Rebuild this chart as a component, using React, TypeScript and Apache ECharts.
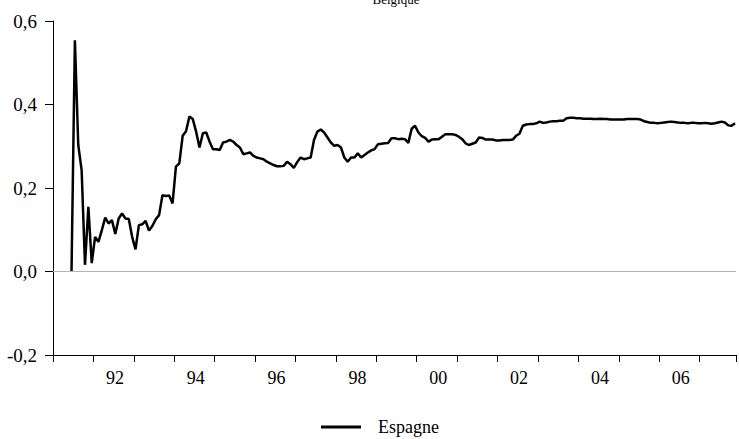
import React, { useEffect, useRef } from "react";
import * as echarts from "echarts";

const titleText = "Belgique";
const seriesName = "Espagne";
const startYear = 1991;
const startMonth = 6; // first observation: June 1991 (monthly data)
const yTicks = [-0.2, 0, 0.2, 0.4, 0.6];
const xLabelYears = [1992, 1994, 1996, 1998, 2000, 2002, 2004, 2006];

const espagne = [
  0, 0.554, 0.303, 0.243, 0.016, 0.155, 0.02, 0.083, 0.071, 0.099,
  0.129, 0.115, 0.123, 0.09, 0.127, 0.139, 0.127, 0.126, 0.083, 0.053,
  0.111, 0.113, 0.121, 0.098, 0.109, 0.125, 0.135, 0.183, 0.181, 0.182,
  0.163, 0.251, 0.259, 0.325, 0.336, 0.371, 0.365, 0.335, 0.297, 0.331,
  0.333, 0.311, 0.293, 0.293, 0.291, 0.309, 0.311, 0.315, 0.311, 0.303,
  0.297, 0.281, 0.283, 0.285, 0.277, 0.273, 0.271, 0.269, 0.263, 0.259,
  0.255, 0.252, 0.252, 0.253, 0.263, 0.257, 0.248, 0.262, 0.273, 0.269,
  0.271, 0.273, 0.315, 0.335, 0.34, 0.333, 0.321, 0.309, 0.301, 0.303,
  0.297, 0.273, 0.263, 0.273, 0.273, 0.283, 0.273, 0.279, 0.285, 0.29,
  0.293, 0.305, 0.306, 0.307, 0.308, 0.319, 0.319, 0.317, 0.318, 0.317,
  0.308, 0.342, 0.349, 0.333, 0.324, 0.32, 0.311, 0.316, 0.317, 0.317,
  0.323, 0.329, 0.329, 0.329, 0.327, 0.323, 0.317, 0.307, 0.303, 0.306,
  0.309, 0.321, 0.32, 0.316, 0.316, 0.316, 0.314, 0.314, 0.315, 0.315,
  0.315, 0.316, 0.325, 0.33, 0.349, 0.352, 0.353, 0.353, 0.355, 0.359,
  0.356, 0.357, 0.359, 0.36, 0.36, 0.361, 0.361, 0.367, 0.368, 0.368,
  0.367, 0.367, 0.366, 0.366, 0.366, 0.365, 0.365, 0.366, 0.365, 0.365,
  0.364, 0.364, 0.364, 0.364, 0.364, 0.365, 0.365, 0.365, 0.365, 0.364,
  0.36, 0.358, 0.356, 0.356, 0.355, 0.356, 0.357, 0.358, 0.359, 0.358,
  0.357, 0.356, 0.356, 0.355, 0.356, 0.356, 0.355, 0.355, 0.356, 0.355,
  0.354, 0.355, 0.357, 0.359, 0.357, 0.35, 0.349, 0.355,
];

const FONT = '"Liberation Serif", "Times New Roman", serif';

export default function App() {
  const ref = useRef<HTMLDivElement>(null);

  useEffect(() => {
    if (!ref.current) return;
    const chart = echarts.init(ref.current, undefined, { renderer: "svg" });

    const data = espagne.map((v, i) => [
      startYear + (startMonth - 1 + i + 0.5) / 12,
      v,
    ]);

    const xMin = 1991;
    const xMax = 2007.9;

    chart.setOption({
      animation: false,
      backgroundColor: "#ffffff",
      grid: { left: 53, right: 0, top: 21, bottom: 84, containLabel: false },
      graphic: [
        {
          type: "text",
          x: 396,
          y: 6,
          style: {
            text: titleText,
            align: "center",
            verticalAlign: "bottom",
            fontSize: 13,
            fontFamily: FONT,
            fill: "#000",
          },
        },
      ],
      legend: {
        data: [seriesName],
        icon: "rect",
        left: 321,
        top: 418,
        padding: 0,
        itemWidth: 40,
        itemHeight: 3,
        itemStyle: { color: "#000" },
        textStyle: {
          fontSize: 18,
          fontFamily: FONT,
          color: "#000",
          padding: [0, 0, 0, 12],
        },
      },
      xAxis: {
        type: "value",
        min: xMin,
        max: xMax,
        interval: 1,
        position: "bottom",
        axisLine: { show: true, onZero: false, lineStyle: { color: "#000", width: 1 } },
        axisTick: { show: true, inside: false, length: 7, lineStyle: { color: "#000", width: 1 } },
        splitLine: { show: false },
        axisLabel: {
          show: true,
          margin: 14,
          fontSize: 18,
          fontFamily: FONT,
          color: "#000",
          padding: [0, 0, 0, 43],
          formatter: (v: number) => {
            const y = Math.round(v);
            return Math.abs(v - y) < 1e-6 && xLabelYears.includes(y)
              ? String(y).slice(2)
              : "";
          },
        },
      },
      yAxis: {
        type: "value",
        min: yTicks[0],
        max: yTicks[yTicks.length - 1],
        interval: 0.2,
        axisLine: { show: true, lineStyle: { color: "#000", width: 1 } },
        axisTick: { show: true, inside: false, length: 8, lineStyle: { color: "#000", width: 1 } },
        splitLine: { show: false },
        axisLabel: {
          margin: 16,
          fontSize: 19,
          fontFamily: FONT,
          color: "#000",
          formatter: (v: number) => {
            const x = Math.abs(v) < 1e-9 ? 0 : v;
            return x.toFixed(1).replace(".", ",");
          },
        },
      },
      series: [
        {
          name: seriesName,
          type: "line",
          data,
          symbol: "none",
          lineStyle: { color: "#000", width: 2.5 },
          itemStyle: { color: "#000" },
          markLine: {
            silent: true,
            symbol: "none",
            label: { show: false },
            lineStyle: { color: "#b4b4b4", width: 1, type: "solid" },
            data: [{ yAxis: 0 }],
          },
        },
      ],
    });

    return () => chart.dispose();
  }, []);

  return (
    <div
      ref={ref}
      style={{ position: "absolute", left: 0, top: 0, width: 739, height: 439, background: "#fff" }}
    />
  );
}
